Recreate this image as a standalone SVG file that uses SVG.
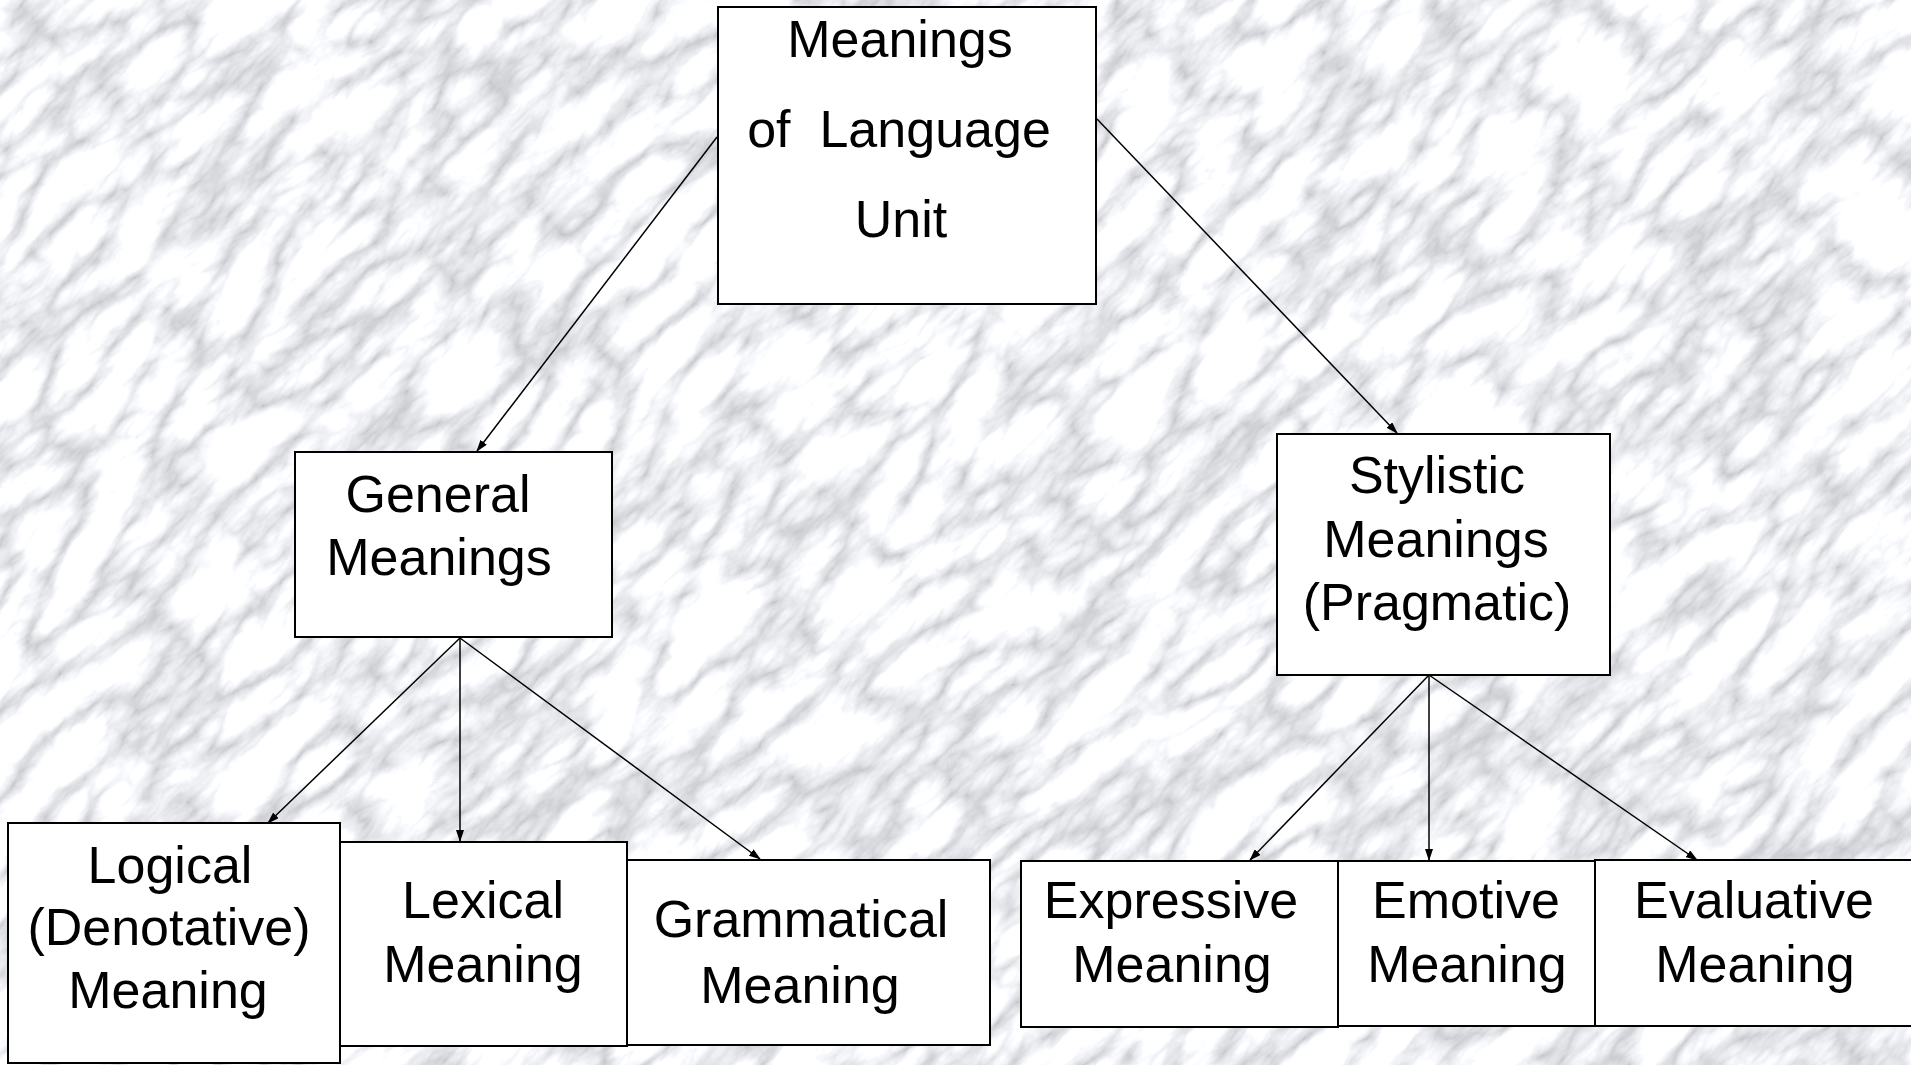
<svg xmlns="http://www.w3.org/2000/svg" width="1911" height="1065" viewBox="0 0 1911 1065">
  <defs>
    <style>
      .box { fill: #ffffff; stroke: #000000; stroke-width: 2; }
      .lbl { font-family: "Liberation Sans", Arial, sans-serif; font-size: 52px; fill: #000000; text-anchor: middle; }
      .edge { fill: none; stroke: #000000; stroke-width: 1.5; marker-end: url(#arrow); }
    </style>
    <marker id="arrow" markerUnits="userSpaceOnUse" markerWidth="12" markerHeight="8" refX="11" refY="4" orient="auto">
      <path d="M0,0 L12,4 L0,8 z" fill="#000000"/>
    </marker>
    <filter id="marble" filterUnits="userSpaceOnUse" x="-700" y="-700" width="3300" height="2500">
      <feTurbulence type="turbulence" baseFrequency="0.009 0.022" numOctaves="5" seed="11" result="t"/>
      <feColorMatrix in="t" type="matrix" values="1.1 0 0 0 0.54  1.1 0 0 0 0.55  1.1 0 0 0 0.58  0 0 0 0 1"/>
    </filter>
  </defs>

  <g id="background">
    <rect x="0" y="0" width="1911" height="1065" fill="#dcdde0"/>
    <g transform="rotate(-45 955 532)">
      <rect x="-700" y="-700" width="3300" height="2500" fill="#dcdde0" filter="url(#marble)"/>
    </g>
  </g>

  <g id="connectors">
    <line class="edge" x1="717" y1="137" x2="477" y2="451"/>
    <line class="edge" x1="1097" y1="119" x2="1397" y2="433"/>
    <line class="edge" x1="460" y1="638" x2="268" y2="823"/>
    <line class="edge" x1="460" y1="638" x2="460" y2="841"/>
    <line class="edge" x1="460" y1="638" x2="760" y2="859"/>
    <line class="edge" x1="1429" y1="675" x2="1250" y2="860"/>
    <line class="edge" x1="1429" y1="675" x2="1429" y2="860"/>
    <line class="edge" x1="1429" y1="675" x2="1697" y2="860"/>
  </g>

  <g id="node-root">
    <rect class="box" x="718" y="7" width="378" height="297"/>
    <text class="lbl" x="900" y="57">Meanings</text>
    <text class="lbl" x="899" y="147" xml:space="preserve">of  Language</text>
    <text class="lbl" x="901" y="237">Unit</text>
  </g>

  <g id="node-general">
    <rect class="box" x="295" y="452" width="317" height="185"/>
    <text class="lbl" x="438" y="512">General</text>
    <text class="lbl" x="439" y="575">Meanings</text>
  </g>

  <g id="node-stylistic">
    <rect class="box" x="1277" y="434" width="333" height="241"/>
    <text class="lbl" x="1437" y="493">Stylistic</text>
    <text class="lbl" x="1436" y="557">Meanings</text>
    <text class="lbl" x="1437" y="620">(Pragmatic)</text>
  </g>

  <g id="node-logical">
    <rect class="box" x="8" y="823" width="332" height="240"/>
    <text class="lbl" x="170" y="883">Logical</text>
    <text class="lbl" x="169" y="945">(Denotative)</text>
    <text class="lbl" x="168" y="1008">Meaning</text>
  </g>

  <g id="node-lexical">
    <rect class="box" x="340" y="842" width="287" height="204"/>
    <text class="lbl" x="483" y="918">Lexical</text>
    <text class="lbl" x="483" y="982">Meaning</text>
  </g>

  <g id="node-grammatical">
    <rect class="box" x="627" y="860" width="363" height="185"/>
    <text class="lbl" x="801" y="937">Grammatical</text>
    <text class="lbl" x="800" y="1003">Meaning</text>
  </g>

  <g id="node-expressive">
    <rect class="box" x="1021" y="861" width="317" height="166"/>
    <text class="lbl" x="1171" y="918">Expressive</text>
    <text class="lbl" x="1172" y="982">Meaning</text>
  </g>

  <g id="node-emotive">
    <rect class="box" x="1338" y="861" width="257" height="165"/>
    <text class="lbl" x="1466" y="918">Emotive</text>
    <text class="lbl" x="1467" y="982">Meaning</text>
  </g>

  <g id="node-evaluative">
    <rect class="box" x="1595" y="860" width="330" height="166"/>
    <text class="lbl" x="1754" y="918">Evaluative</text>
    <text class="lbl" x="1755" y="982">Meaning</text>
  </g>
</svg>
